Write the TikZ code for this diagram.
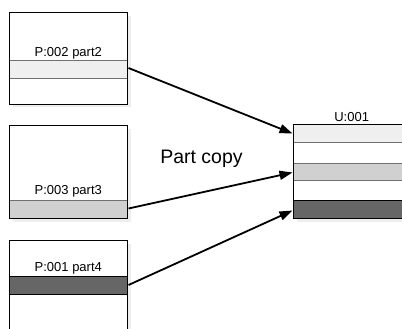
\documentclass[tikz,border=0pt]{standalone}
\usepackage{fontspec}
\setmainfont{Liberation Sans}
\usetikzlibrary{arrows.meta}
\definecolor{bandA}{HTML}{EFEFEF}
\definecolor{bandB}{HTML}{D0D0D0}
\definecolor{bandC}{HTML}{666666}
\definecolor{shadowc}{HTML}{EEEEEE}
\definecolor{sepc}{HTML}{707070}
\begin{document}
\begin{tikzpicture}[x=1pt,y=-1pt,
  boxline/.style={draw=black,line width=0.9pt},
  sepline/.style={draw=sepc,line width=0.9pt},
  shadowbox/.style={fill=shadowc,draw=none},
  lbl/.style={font=\fontsize{13}{15}\selectfont,inner sep=0pt},
  copyarrow/.style={line width=1.8pt,-{Triangle[length=13pt,width=9pt]}},
]
\useasboundingbox (0,0) rectangle (402,329);
% shadows
\fill[shadowbox] (12.5,16) rectangle (131,107.5);
\fill[shadowbox] (12.5,128.5) rectangle (131,222);
\fill[shadowbox] (12.5,244) rectangle (131,335);
\fill[shadowbox] (297,128) rectangle (410,222);
% box 1
\fill[white] (9,12.3) rectangle (127.7,104);
\fill[bandA] (9,60.3) rectangle (127.7,78.3);
\draw[sepline] (9,60.3) -- (127.7,60.3) (9,78.3) -- (127.7,78.3);
\draw[boxline] (9,12.3) rectangle (127.7,104);
\node[lbl] (l1) at (68.3,53) {P:002 part2};
% box 2
\fill[white] (9,125) rectangle (127.7,218.3);
\fill[bandB] (9,200) rectangle (127.7,218.3);
\draw[sepline] (9,200) -- (127.7,200);
\draw[boxline] (9,125) rectangle (127.7,218.3);
\node[lbl] (l2) at (68.3,191.3) {P:003 part3};
% box 3
\fill[white] (9,240.7) rectangle (127.7,340);
\fill[bandC] (9,276) rectangle (127.7,294);
\draw[boxline] (9,276) -- (127.7,276) (9,294) -- (127.7,294);
\draw[boxline] (9,340) -- (9,240.7) -- (127.7,240.7) -- (127.7,340);
\node[lbl] (l3) at (68.3,268.5) {P:001 part4};
% U box
\fill[white] (293.3,124.3) rectangle (410,218.3);
\fill[bandA] (293.3,124.3) rectangle (410,142.3);
\fill[bandB] (293.3,163.3) rectangle (410,180);
\fill[bandC] (293.3,200) rectangle (410,218.3);
\draw[sepline] (293.3,142.3) -- (410,142.3) (293.3,163.3) -- (410,163.3) (293.3,180) -- (410,180);
\draw[boxline] (293.3,200) -- (410,200);
\draw[boxline] (410,124.3) -- (293.3,124.3) -- (293.3,218.3) -- (410,218.3);
\node[lbl] (u) at (351.7,117) {U:001};
% arrow endpoints
\coordinate (s1) at (128.5,68);
\coordinate (s2) at (128.5,208.5);
\coordinate (s3) at (128.5,285);
\coordinate (t1) at (292.5,133.5);
\coordinate (t2) at (292.5,172.5);
\coordinate (t3) at (292.5,210.5);
\draw[copyarrow] (s1) -- (t1);
\draw[copyarrow] (s2) -- (t2);
\draw[copyarrow] (s3) -- (t3);
\node[font=\fontsize{19.5}{22}\selectfont,inner sep=0pt] (pc) at (201.5,159) {Part copy};
\end{tikzpicture}
\end{document}
